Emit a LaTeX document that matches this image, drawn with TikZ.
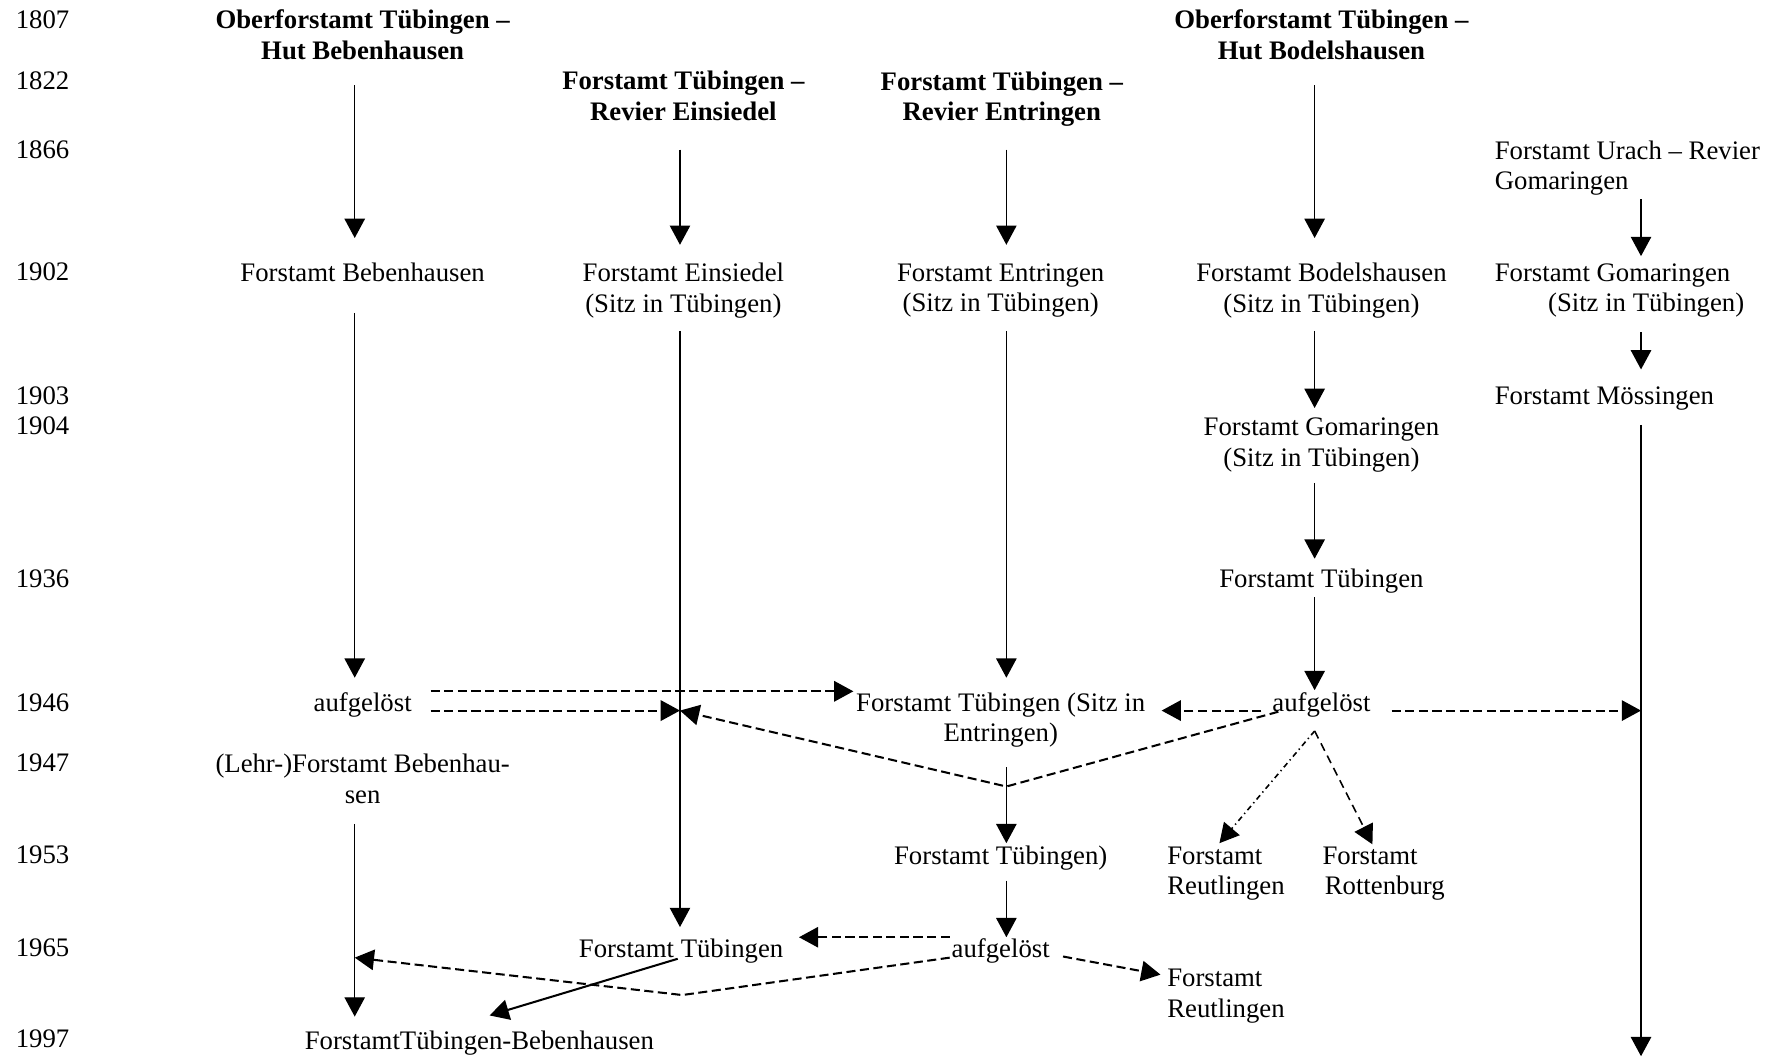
\documentclass[tikz,border=0pt]{standalone}
\usepackage{fontspec}
\setmainfont{Liberation Serif}
\usetikzlibrary{arrows.meta,calc}
\begin{document}
\begin{tikzpicture}[x=0.5pt,y=-0.5pt,
  every node/.style={inner sep=0pt, outer sep=0pt, font=\fontsize{11.8}{13.5}\selectfont},
  lbl/.style={align=center},
  hdr/.style={align=center, font=\fontsize{11.8}{13.5}\selectfont\bfseries},
  lft/.style={align=left, anchor=west},
  yr/.style={anchor=west},
  tip/.style={-{Triangle[length=8.5pt,width=9pt]}},
  arr/.style={tip, line width=0.6pt},
  thickarr/.style={tip, line width=0.9pt},
  darr/.style={tip, line width=0.9pt, dash pattern=on 4pt off 2pt},
  ddarr/.style={tip, line width=0.7pt, dash pattern=on 3.7pt off 2.4pt},
  dotarr/.style={tip, line width=0.7pt, dash pattern=on 2.4pt off 1.6pt on 0.6pt off 1.6pt}
]
\useasboundingbox (0,0) rectangle (1568,932);

% years
\node[yr] (y1807) at (14,17) {1807};
\node[yr] (y1822) at (14,71) {1822};
\node[yr] (y1866) at (14,132) {1866};
\node[yr] (y1902) at (14,240) {1902};
\node[yr] (y1903) at (14,349) {1903};
\node[yr] (y1904) at (14,376) {1904};
\node[yr] (y1936) at (14,511) {1936};
\node[yr] (y1946) at (14,620) {1946};
\node[yr] (y1947) at (14,673) {1947};
\node[yr] (y1953) at (14,754) {1953};
\node[yr] (y1965) at (14,836) {1965};
\node[yr] (y1997) at (14,917) {1997};

% headers
\node[hdr] (A0) at (320,30.5) {Oberforstamt Tübingen –\\Hut Bebenhausen};
\node[hdr] (D0) at (1166,30.5) {Oberforstamt Tübingen –\\Hut Bodelshausen};
\node[hdr] (B0) at (603,84.5) {Forstamt Tübingen –\\Revier Einsiedel};
\node[hdr] (C0) at (884,87.5) {Forstamt Tübingen –\\Revier Entringen};
\node[lft] (E0) at (1319,148.5) {Forstamt Urach – Revier\\Gomaringen};

% 1902
\node[lbl] (A1) at (320,240) {Forstamt Bebenhausen};
\node[lbl] (B1) at (603,256.5) {Forstamt Einsiedel\\(Sitz in Tübingen)};
\node[lbl] (C1) at (883,256.5) {Forstamt Entringen\\(Sitz in Tübingen)};
\node[lbl] (D1) at (1166,256.5) {Forstamt Bodelshausen\\(Sitz in Tübingen)};
\node[lft] (E1) at (1319,256.5) {Forstamt Gomaringen\\\hspace*{23.5pt}(Sitz in Tübingen)};

% 1903 - 1936
\node[lft] (E2) at (1319,352) {Forstamt Mössingen};
\node[lbl] (D2) at (1166,392.5) {Forstamt Gomaringen\\(Sitz in Tübingen)};
\node[lbl] (D3) at (1166,513) {Forstamt Tübingen};

% 1946 - 1947
\node[lbl] (A2) at (320,622) {aufgelöst};
\node[lbl] (C2) at (883,635.5) {Forstamt Tübingen (Sitz in\\Entringen)};
\node[lbl] (D4) at (1166,622) {aufgelöst};
\node[lbl] (A3) at (320,687) {(Lehr-)Forstamt Bebenhau-\\sen};

% 1953 - 1997
\node[lbl] (C3) at (883,757) {Forstamt Tübingen)};
\node[lft] (R1) at (1030,771) {Forstamt\\Reutlingen};
\node[lft] (R2) at (1167,771) {Forstamt\\\hspace*{1pt}Rottenburg};
\node[lbl] (B2) at (601,839) {Forstamt Tübingen};
\node[lbl] (C4) at (883,839) {aufgelöst};
\node[lft] (R3) at (1030,879) {Forstamt\\Reutlingen};
\node[lbl] (A4) at (423,920) {ForstamtTübingen-Bebenhausen};

% free ends on the lines
\coordinate (mB) at (600,627);
\coordinate (mE) at (1448,627);
\coordinate (mA) at (313,845);
\coordinate (v1) at (888,694);
\coordinate (v2) at (602,878);
\coordinate (Eend) at (1448,932);

% column A
\draw[arr] ($(A0)+(-7,44.5)$) -- ($(A1)+(-7,-30)$);
\draw[arr] ($(A1)+(-7,36)$) -- ($(A2)+(-7,-24)$);
\draw[arr] ($(A3)+(-7,40)$) -- ($(A4)+(-110,-23)$);
% column B
\draw[arr] ($(B0)+(-3,47.5)$) -- ($(B1)+(-3,-40.5)$);
\draw[arr] ($(B1)+(-3,35.5)$) -- ($(B2)+(-1,-21)$);
% column C
\draw[arr] ($(C0)+(4,44.5)$) -- ($(C1)+(5,-40.5)$);
\draw[arr] ($(C1)+(5,35.5)$) -- ($(C2)+(5,-37.5)$);
\draw[arr] ($(C2)+(5,41.5)$) -- ($(C3)+(5,-13)$);
\draw[arr] ($(C3)+(5,20)$) -- ($(C4)+(5,-12)$);
% column D
\draw[arr] ($(D0)+(-6,44.5)$) -- ($(D1)+(-6,-46.5)$);
\draw[arr] ($(D1)+(-6,35.5)$) -- ($(D2)+(-6,-32.5)$);
\draw[arr] ($(D2)+(-6,33.5)$) -- ($(D3)+(-6,-20)$);
\draw[arr] ($(D3)+(-6,14)$) -- ($(D4)+(-6,-13)$);
% column E
\draw[arr] ($(E0.west)+(129,27.5)$) -- ($(E1.west)+(129,-30.5)$);
\draw[arr] ($(E1.west)+(129,36.5)$) -- ($(E2.west)+(129,-26)$);
\draw[arr] ($(E2.west)+(129,23)$) -- (Eend);

% dashed transfers 1946
\draw[darr] ($(A2)+(60,-12)$) -- ($(C2)+(-130,-25.5)$);
\draw[darr] ($(A2)+(60,5)$) -- (mB);
\draw[darr] ($(D4)+(-53,5)$) -- ($(C2)+(142,-8.5)$);
\draw[darr] ($(D4)+(62,5)$) -- (mE);
\draw[darr] ($(D4)+(-38,6)$) -- (v1) -- (mB);
\draw[dotarr] ($(D4)+(-6,23)$) -- ($(R1.west)+(46,-27)$);
\draw[ddarr] ($(D4)+(-6,23)$) -- ($(R2.west)+(44,-26)$);

% dashed transfers 1965
\draw[darr] ($(C4)+(-45,-12)$) -- ($(B2)+(104,-12)$);
\draw[darr] ($(C4)+(-45,6)$) -- (v2) -- (mA);
\draw[darr] ($(C4)+(55,5)$) -- ($(R3.west)+(-6,-19)$);
\draw[thickarr] ($(B2)+(-3,7)$) -- ($(A4)+(9,-24)$);
\end{tikzpicture}
\end{document}
